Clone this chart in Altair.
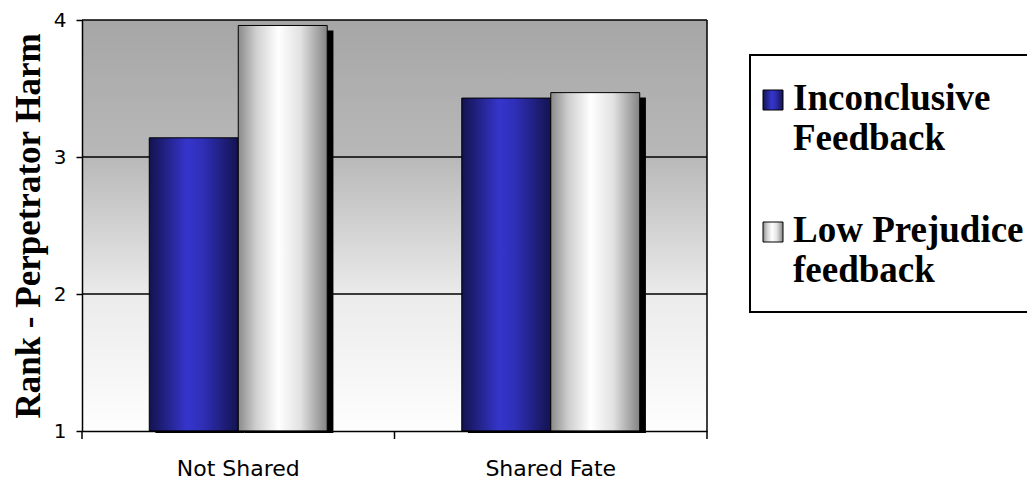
import altair as alt
import pandas as pd

# Data
conditions = ["Not Shared", "Shared Fate"]
feedback_types = ["Inconclusive Feedback", "Low Prejudice feedback"]
inconclusive = [3.14, 3.43]
low_prejudice = [3.96, 3.47]
y_ticks = [1, 2, 3, 4]
grid_values = [2, 3, 4]
legend_labels = ["Inconclusive\nFeedback", "Low Prejudice\nfeedback"]

rows = []
for i, c in enumerate(conditions):
    rows.append({"condition": c, "feedback": feedback_types[0], "rank": inconclusive[i]})
    rows.append({"condition": c, "feedback": feedback_types[1], "rank": low_prejudice[i]})
bars = pd.DataFrame(rows)
grid_df = pd.DataFrame({"v": grid_values})
cond_df = pd.DataFrame({"condition": conditions})
one = pd.DataFrame({"k": [0]})

W, H = 625, 411

blue_grad = alt.Gradient(
    gradient="linear", x1=0, y1=0, x2=1, y2=0,
    stops=[alt.GradientStop(offset=0, color="#13134f"),
           alt.GradientStop(offset=0.42, color="#3535cc"),
           alt.GradientStop(offset=0.6, color="#2f2fb8"),
           alt.GradientStop(offset=1, color="#131350")])
white_grad = alt.Gradient(
    gradient="linear", x1=0, y1=0, x2=1, y2=0,
    stops=[alt.GradientStop(offset=0, color="#8a8a8a"),
           alt.GradientStop(offset=0.2, color="#cfcfcf"),
           alt.GradientStop(offset=0.45, color="#ffffff"),
           alt.GradientStop(offset=0.7, color="#e2e2e2"),
           alt.GradientStop(offset=1, color="#838383")])
bg_grad = alt.Gradient(
    gradient="linear", x1=0, y1=0, x2=0, y2=1,
    stops=[alt.GradientStop(offset=0, color="#a6a6a6"),
           alt.GradientStop(offset=0.33, color="#b8b8b8"),
           alt.GradientStop(offset=0.67, color="#ebebeb"),
           alt.GradientStop(offset=1, color="#fefefe")])

yscale = alt.Scale(domain=[1, 4], zero=False, nice=False)
xscale = alt.Scale(domain=conditions, paddingInner=0, paddingOuter=0)
oscale = alt.Scale(domain=feedback_types, paddingInner=0, paddingOuter=0.756)
# the drop shadow sits a few pixels to the right of each bar
shadow_oscale = alt.Scale(domain=feedback_types, paddingInner=0, paddingOuter=0.756, align=0.546)

y_axis = alt.Axis(values=y_ticks, format="d", grid=False, tickSize=6, tickColor="black",
                  tickWidth=1.5, domainColor="black", domainWidth=1.5,
                  labelFont="DejaVu Sans", labelFontSize=20,
                  labelColor="black", labelPadding=10,
                  title="Rank - Perpetrator Harm", titleFont="Liberation Serif",
                  titleFontSize=35, titleFontWeight="bold", titleColor="black",
                  titlePadding=7, zindex=1)
x_axis = alt.Axis(ticks=False, domainColor="black", domainWidth=1.5, labelAngle=0,
                  labelFont="DejaVu Sans", labelFontSize=22, labelColor="black",
                  labelPadding=27, title=None, zindex=1)

background = alt.Chart(one).mark_rect(fill=bg_grad).encode(
    x=alt.value(0), x2=alt.value(W), y=alt.value(0), y2=alt.value(H))

grid = alt.Chart(grid_df).mark_rule(color="black", strokeWidth=1.6).encode(
    y=alt.Y("v:Q", scale=yscale, axis=y_axis))

shadow = alt.Chart(bars).mark_bar(color="black", yOffset=5, y2Offset=2).encode(
    x=alt.X("condition:N", scale=xscale, axis=x_axis),
    xOffset=alt.XOffset("feedback:N", scale=shadow_oscale),
    y=alt.Y("rank:Q", scale=yscale, axis=y_axis),
    y2=alt.datum(1))

blue = alt.Chart(bars).transform_filter(
    alt.datum.feedback == feedback_types[0]
).mark_bar(fill=blue_grad, stroke="black", strokeWidth=1).encode(
    x=alt.X("condition:N", scale=xscale, axis=x_axis),
    xOffset=alt.XOffset("feedback:N", scale=oscale),
    y=alt.Y("rank:Q", scale=yscale, axis=y_axis),
    y2=alt.datum(1))

white = alt.Chart(bars).transform_filter(
    alt.datum.feedback == feedback_types[1]
).mark_bar(fill=white_grad, stroke="black", strokeWidth=1).encode(
    x=alt.X("condition:N", scale=xscale, axis=x_axis),
    xOffset=alt.XOffset("feedback:N", scale=oscale),
    y=alt.Y("rank:Q", scale=yscale, axis=y_axis),
    y2=alt.datum(1))

# category boundary ticks below the x axis and the right frame edge
cat_ticks = alt.Chart(cond_df).mark_rule(color="black", strokeWidth=1.5).encode(
    x=alt.X("condition:N", scale=xscale, axis=x_axis, bandPosition=0),
    y=alt.value(H), y2=alt.value(H + 8))
right_edge = alt.Chart(one).mark_rule(color="black", strokeWidth=1.5).encode(
    x=alt.value(W), y=alt.value(0), y2=alt.value(H + 8))

# legend
legend_box = alt.Chart(one).mark_rect(fill="white", stroke="black", strokeWidth=2).encode(
    x=alt.value(668), x2=alt.value(1030), y=alt.value(35), y2=alt.value(292))
sw1 = alt.Chart(one).mark_rect(fill=blue_grad, stroke="black", strokeWidth=1).encode(
    x=alt.value(681), x2=alt.value(701), y=alt.value(70), y2=alt.value(90))
sw2 = alt.Chart(one).mark_rect(fill=white_grad, stroke="black", strokeWidth=1).encode(
    x=alt.value(681), x2=alt.value(701), y=alt.value(202), y2=alt.value(222))
text_style = dict(align="left", baseline="alphabetic", font="Liberation Serif",
                  fontWeight="bold", fontSize=37, lineHeight=40, lineBreak="\n", color="black")
lt1 = alt.Chart(one).mark_text(**text_style).encode(
    x=alt.value(711), y=alt.value(90), text=alt.value(legend_labels[0]))
lt2 = alt.Chart(one).mark_text(**text_style).encode(
    x=alt.value(711), y=alt.value(222), text=alt.value(legend_labels[1]))

chart = alt.layer(
    background, grid, shadow, blue, white, cat_ticks, right_edge,
    legend_box, sw1, sw2, lt1, lt2
).resolve_scale(
    xOffset="independent"
).properties(
    width=W, height=H,
    autosize=alt.AutoSizeParams(type="none"),
    padding={"left": 82, "top": 20, "right": 320, "bottom": 52},
    background="white",
).configure_view(stroke=None)

chart.save("out.html", embed_options={"renderer": "svg", "actions": False})
